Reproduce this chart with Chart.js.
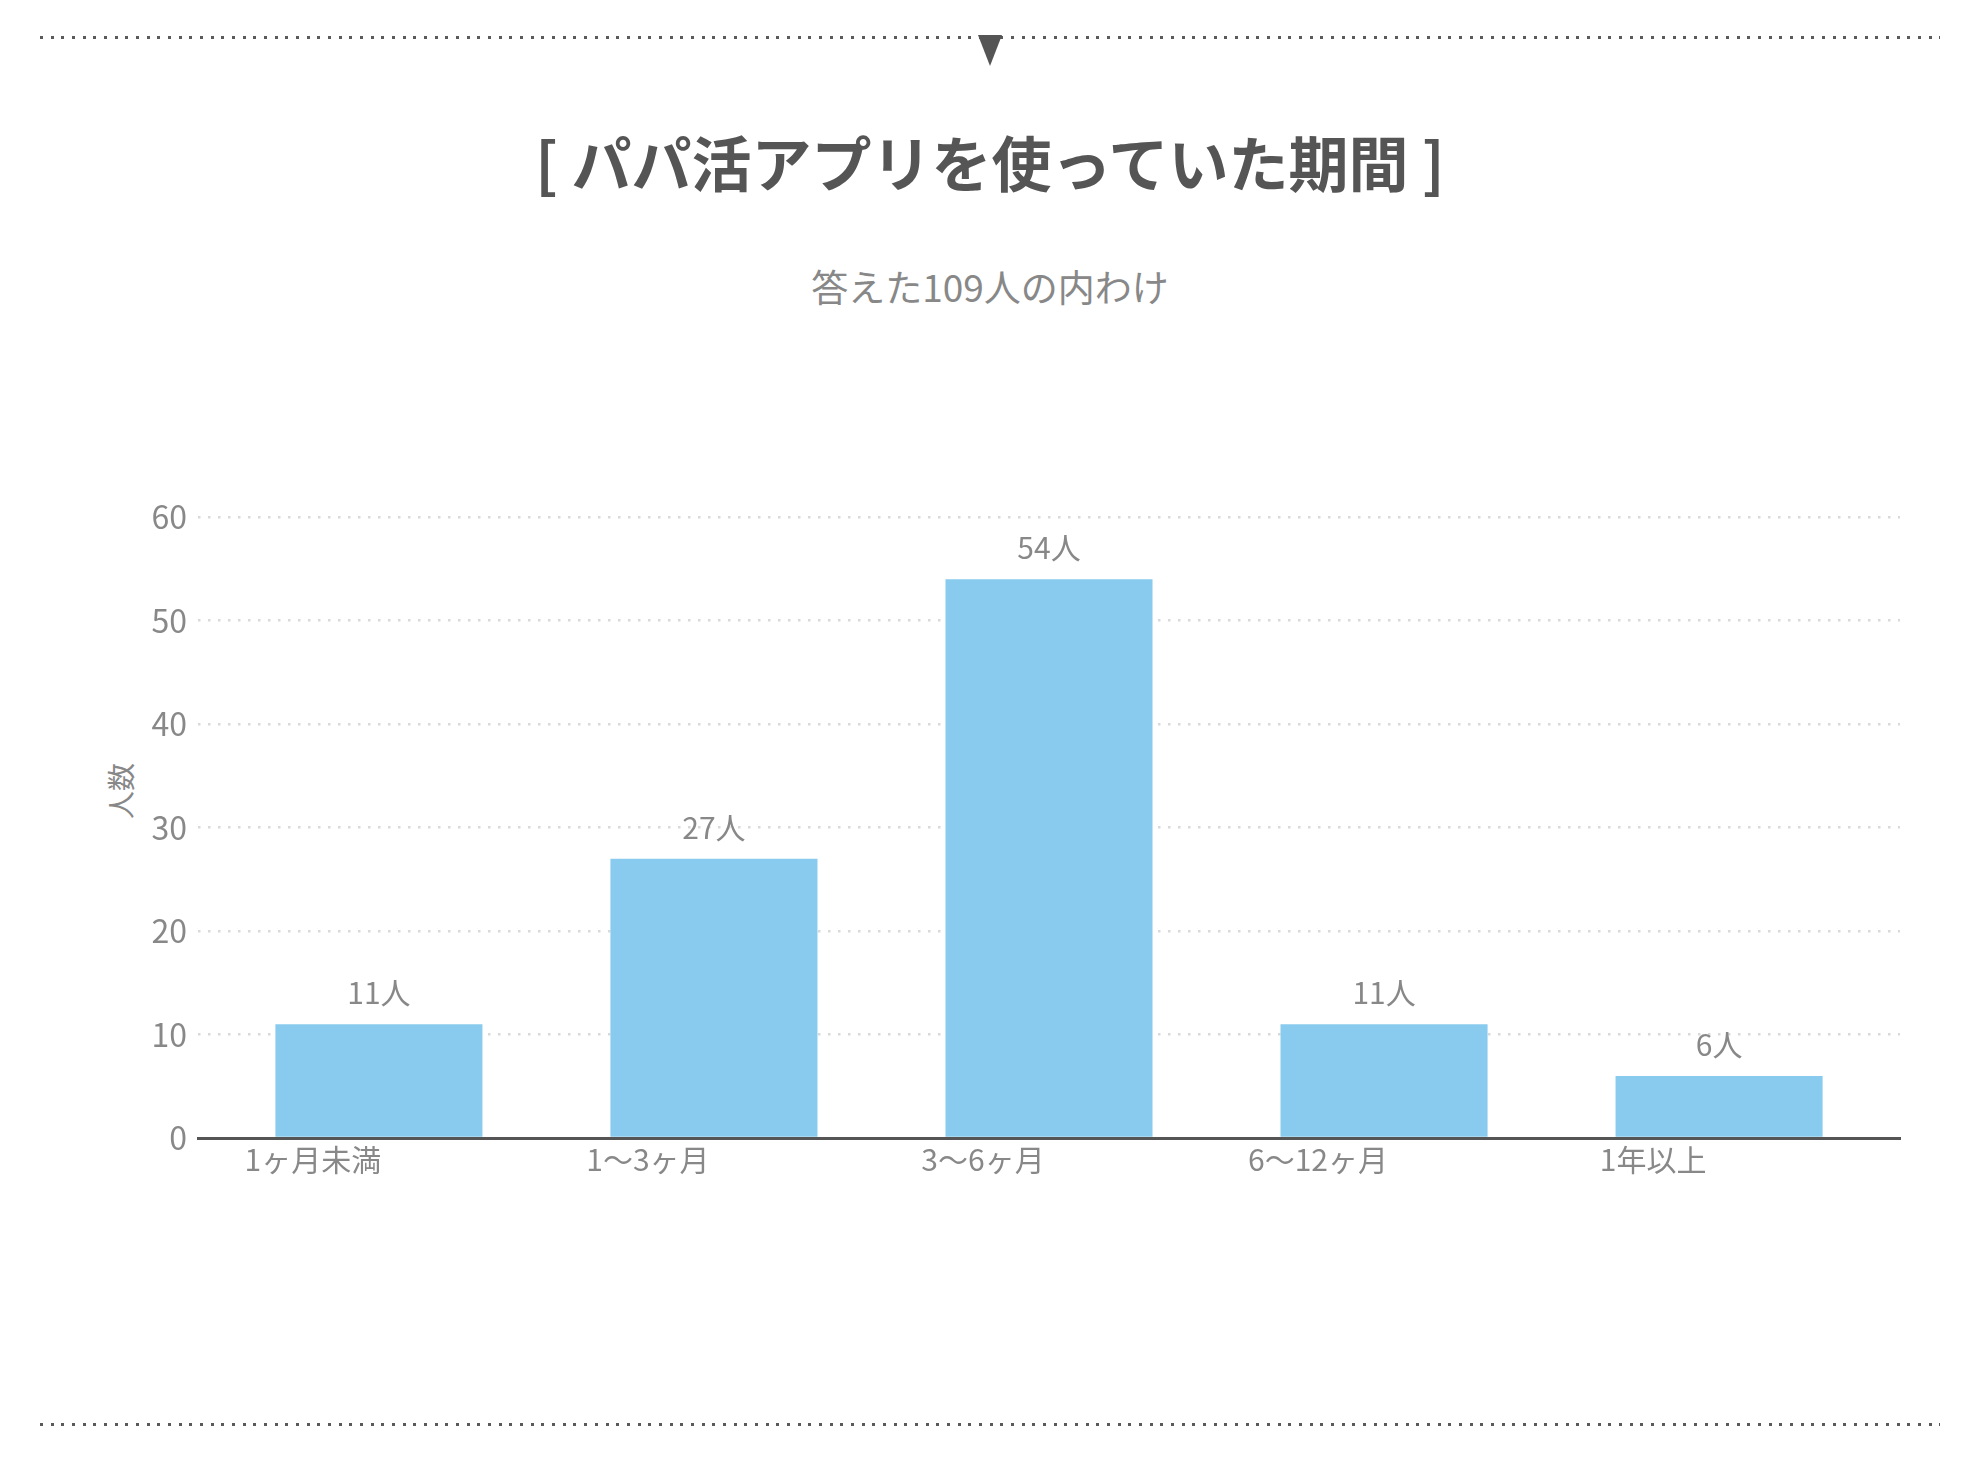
<!DOCTYPE html>
<html lang="ja">
<head>
<meta charset="utf-8">
<script src="https://cdn.jsdelivr.net/npm/chart.js@4.4.1/dist/chart.umd.min.js"></script>
<style>
  html, body { margin: 0; padding: 0; background: #fff; }
  body { width: 1980px; height: 1460px; position: relative; overflow: hidden;
         font-family: "Noto Sans CJK JP", "Noto Sans", sans-serif; }
  .dots { position: absolute; left: 40px; width: 1900px; height: 3px;
          background: repeating-linear-gradient(to right, #5a5a5a 0 3px, transparent 3px 10.67px); }
  #tri { position: absolute; left: 978px; top: 35px; width: 0; height: 0;
         border-left: 12.5px solid transparent; border-right: 12.5px solid transparent;
         border-top: 31px solid #555; }
  #title { position: absolute; left: 0; width: 1980px; top: 131px; text-align: center;
           font-size: 60px; line-height: 60px; font-weight: bold; color: #555; }
  #subtitle { position: absolute; left: 0; width: 1980px; top: 268px; text-align: center;
              font-size: 37px; line-height: 37px; color: #888; }
  #ytitle { position: absolute; left: 120px; top: 791px; transform: translate(-50%, -50%) rotate(-90deg);
            font-size: 28px; line-height: 28px; color: #888; white-space: nowrap; }
  #wrap { position: absolute; left: 0; top: 487px; width: 1980px; height: 729px; }
</style>
</head>
<body>
<div class="dots" style="top:36px"></div>
<div id="tri"></div>
<div id="title">[ パパ活アプリを使っていた期間 ]</div>
<div id="subtitle">答えた109人の内わけ</div>
<div id="ytitle">人数</div>
<div id="wrap"><canvas id="c"></canvas></div>
<div class="dots" style="top:1423px"></div>
<script>
const categories = ['1ヶ月未満', '1〜3ヶ月', '3〜6ヶ月', '6〜12ヶ月', '1年以上'];
const values = [11, 27, 54, 11, 6];
const unit = '人';
const yMin = 0;
const yMax = 60;
const yStep = 10;

const valueLabels = {
  id: 'valueLabels',
  afterDatasetsDraw(chart) {
    const ctx = chart.ctx;
    const meta = chart.getDatasetMeta(0);
    ctx.save();
    ctx.font = '30px "Noto Sans CJK JP", sans-serif';
    ctx.fillStyle = '#888';
    ctx.textAlign = 'center';
    ctx.textBaseline = 'alphabetic';
    meta.data.forEach((bar, i) => {
      ctx.fillText(values[i] + unit, bar.x, bar.y - 20);
    });
    ctx.restore();
  }
};

new Chart(document.getElementById('c'), {
  type: 'bar',
  data: {
    labels: categories,
    datasets: [{
      data: values,
      backgroundColor: '#89cbee',
      borderWidth: 0,
      categoryPercentage: 1,
      barPercentage: 0.618
    }]
  },
  options: {
    responsive: true,
    maintainAspectRatio: false,
    animation: false,
    devicePixelRatio: 1,
    layout: { padding: { top: 20, right: 80, left: 0, bottom: 0 } },
    plugins: { legend: { display: false }, tooltip: { enabled: false }, title: { display: false } },
    scales: {
      x: {
        offset: true,
        grid: { display: false, drawTicks: false },
        border: { display: true, color: '#555', width: 3 },
        ticks: {
          color: '#888',
          font: { size: 30, family: '"Noto Sans CJK JP", sans-serif' },
          padding: 4,
          labelOffset: -66,
          maxRotation: 0,
          autoSkip: false
        },
        afterBuildTicks(scale) {
          scale._startValue = -0.54;
          scale._valueRange = categories.length + 0.08;
        },
        afterFit(scale) { scale.height = 78; }
      },
      y: {
        min: yMin,
        max: yMax,
        ticks: {
          stepSize: yStep,
          color: '#888',
          font: { size: 32, family: '"Noto Sans CJK JP", sans-serif' },
          padding: 11
        },
        grid: { color: '#d9d9d9', lineWidth: 2.5, drawTicks: false },
        border: { display: false, dash: [2.5, 7.5] },
        afterFit(scale) { scale.width = 198; }
      }
    }
  },
  plugins: [valueLabels]
});
</script>
</body>
</html>
